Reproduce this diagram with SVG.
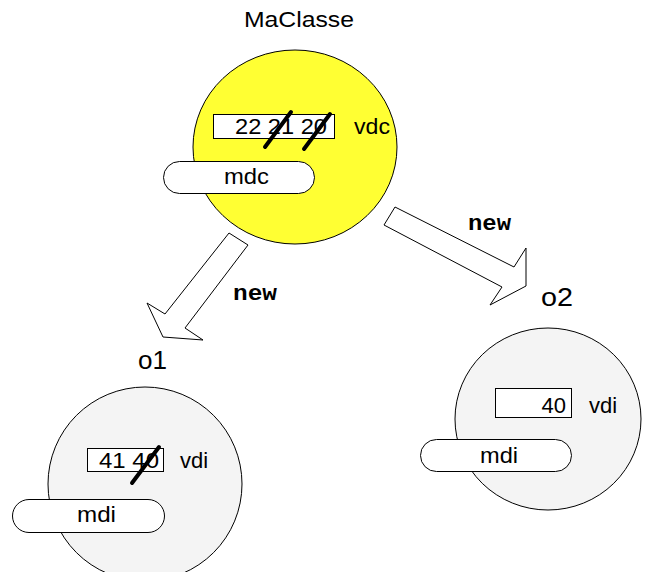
<svg xmlns="http://www.w3.org/2000/svg" width="645" height="572" viewBox="0 0 645 572">
  <style>
    .obj { stroke: #000; stroke-width: 1; }
    .cls { fill: #ffff33; }
    .inst { fill: #f4f4f4; }
    .box { fill: #fff; stroke: #000; stroke-width: 1; }
    .strike { stroke: #000; stroke-width: 4; stroke-linecap: round; }
    .txt { font-family: "Liberation Sans", Arial, sans-serif; font-size: 22px; fill: #000; }
    .name { font-family: "Liberation Sans", Arial, sans-serif; font-size: 25px; fill: #000; }
    .kw { font-family: "Liberation Mono", "Courier New", monospace; font-weight: bold; font-size: 22px; fill: #000; }
    .arrow { fill: #fff; stroke: #000; stroke-width: 1; stroke-linejoin: miter; }
  </style>

  <!-- class MaClasse -->
  <g id="MaClasse">
    <text class="txt" x="244" y="27" textLength="110" lengthAdjust="spacingAndGlyphs">MaClasse</text>
    <ellipse class="obj cls" cx="295" cy="147" rx="102" ry="97"/>
    <rect class="box" x="213.5" y="114.5" width="121" height="24"/>
    <text class="txt" x="235" y="134" textLength="92" lengthAdjust="spacingAndGlyphs">22 21 20</text>
    <line class="strike" x1="265" y1="147" x2="291" y2="112"/>
    <line class="strike" x1="304" y1="149" x2="330" y2="114"/>
    <text class="txt" x="354" y="134" textLength="36" lengthAdjust="spacingAndGlyphs">vdc</text>
    <rect class="box" x="163.5" y="161.5" width="151" height="32" rx="16" ry="16"/>
    <text class="txt" x="224" y="184" textLength="45" lengthAdjust="spacingAndGlyphs">mdc</text>
  </g>

  <!-- instantiation arrows -->
  <g id="connectors">
    <polygon class="arrow" points="229,233 248,245 185,328 203,340 163,337 147,303 165,314"/>
    <text class="kw" x="233" y="300" textLength="44" lengthAdjust="spacingAndGlyphs">new</text>
    <polygon class="arrow" points="395,207 514,267 526,248 526,286 490,305 502,287 384,225"/>
    <text class="kw" x="468" y="230" textLength="43" lengthAdjust="spacingAndGlyphs">new</text>
  </g>

  <!-- instance o1 -->
  <g id="o1">
    <text class="name" x="138" y="369" textLength="29" lengthAdjust="spacingAndGlyphs">o1</text>
    <circle class="obj inst" cx="145" cy="484" r="97"/>
    <rect class="box" x="87.5" y="448.5" width="76" height="23"/>
    <text class="txt" x="99" y="468" textLength="60" lengthAdjust="spacingAndGlyphs">41 40</text>
    <line class="strike" x1="132" y1="483" x2="159" y2="447"/>
    <text class="txt" x="180" y="468">vdi</text>
    <rect class="box" x="12.5" y="499.5" width="152" height="33" rx="16.5" ry="16.5"/>
    <text class="txt" x="77" y="522" textLength="39" lengthAdjust="spacingAndGlyphs">mdi</text>
  </g>

  <!-- instance o2 -->
  <g id="o2">
    <text class="name" x="541" y="306" textLength="32" lengthAdjust="spacingAndGlyphs">o2</text>
    <ellipse class="obj inst" cx="548" cy="419" rx="93" ry="91"/>
    <rect class="box" x="495.5" y="388.5" width="76" height="29"/>
    <text class="txt" x="566" y="413" text-anchor="end">40</text>
    <text class="txt" x="589" y="413">vdi</text>
    <rect class="box" x="420.5" y="439.5" width="151" height="32" rx="16" ry="16"/>
    <text class="txt" x="480" y="463" textLength="38" lengthAdjust="spacingAndGlyphs">mdi</text>
  </g>
</svg>
